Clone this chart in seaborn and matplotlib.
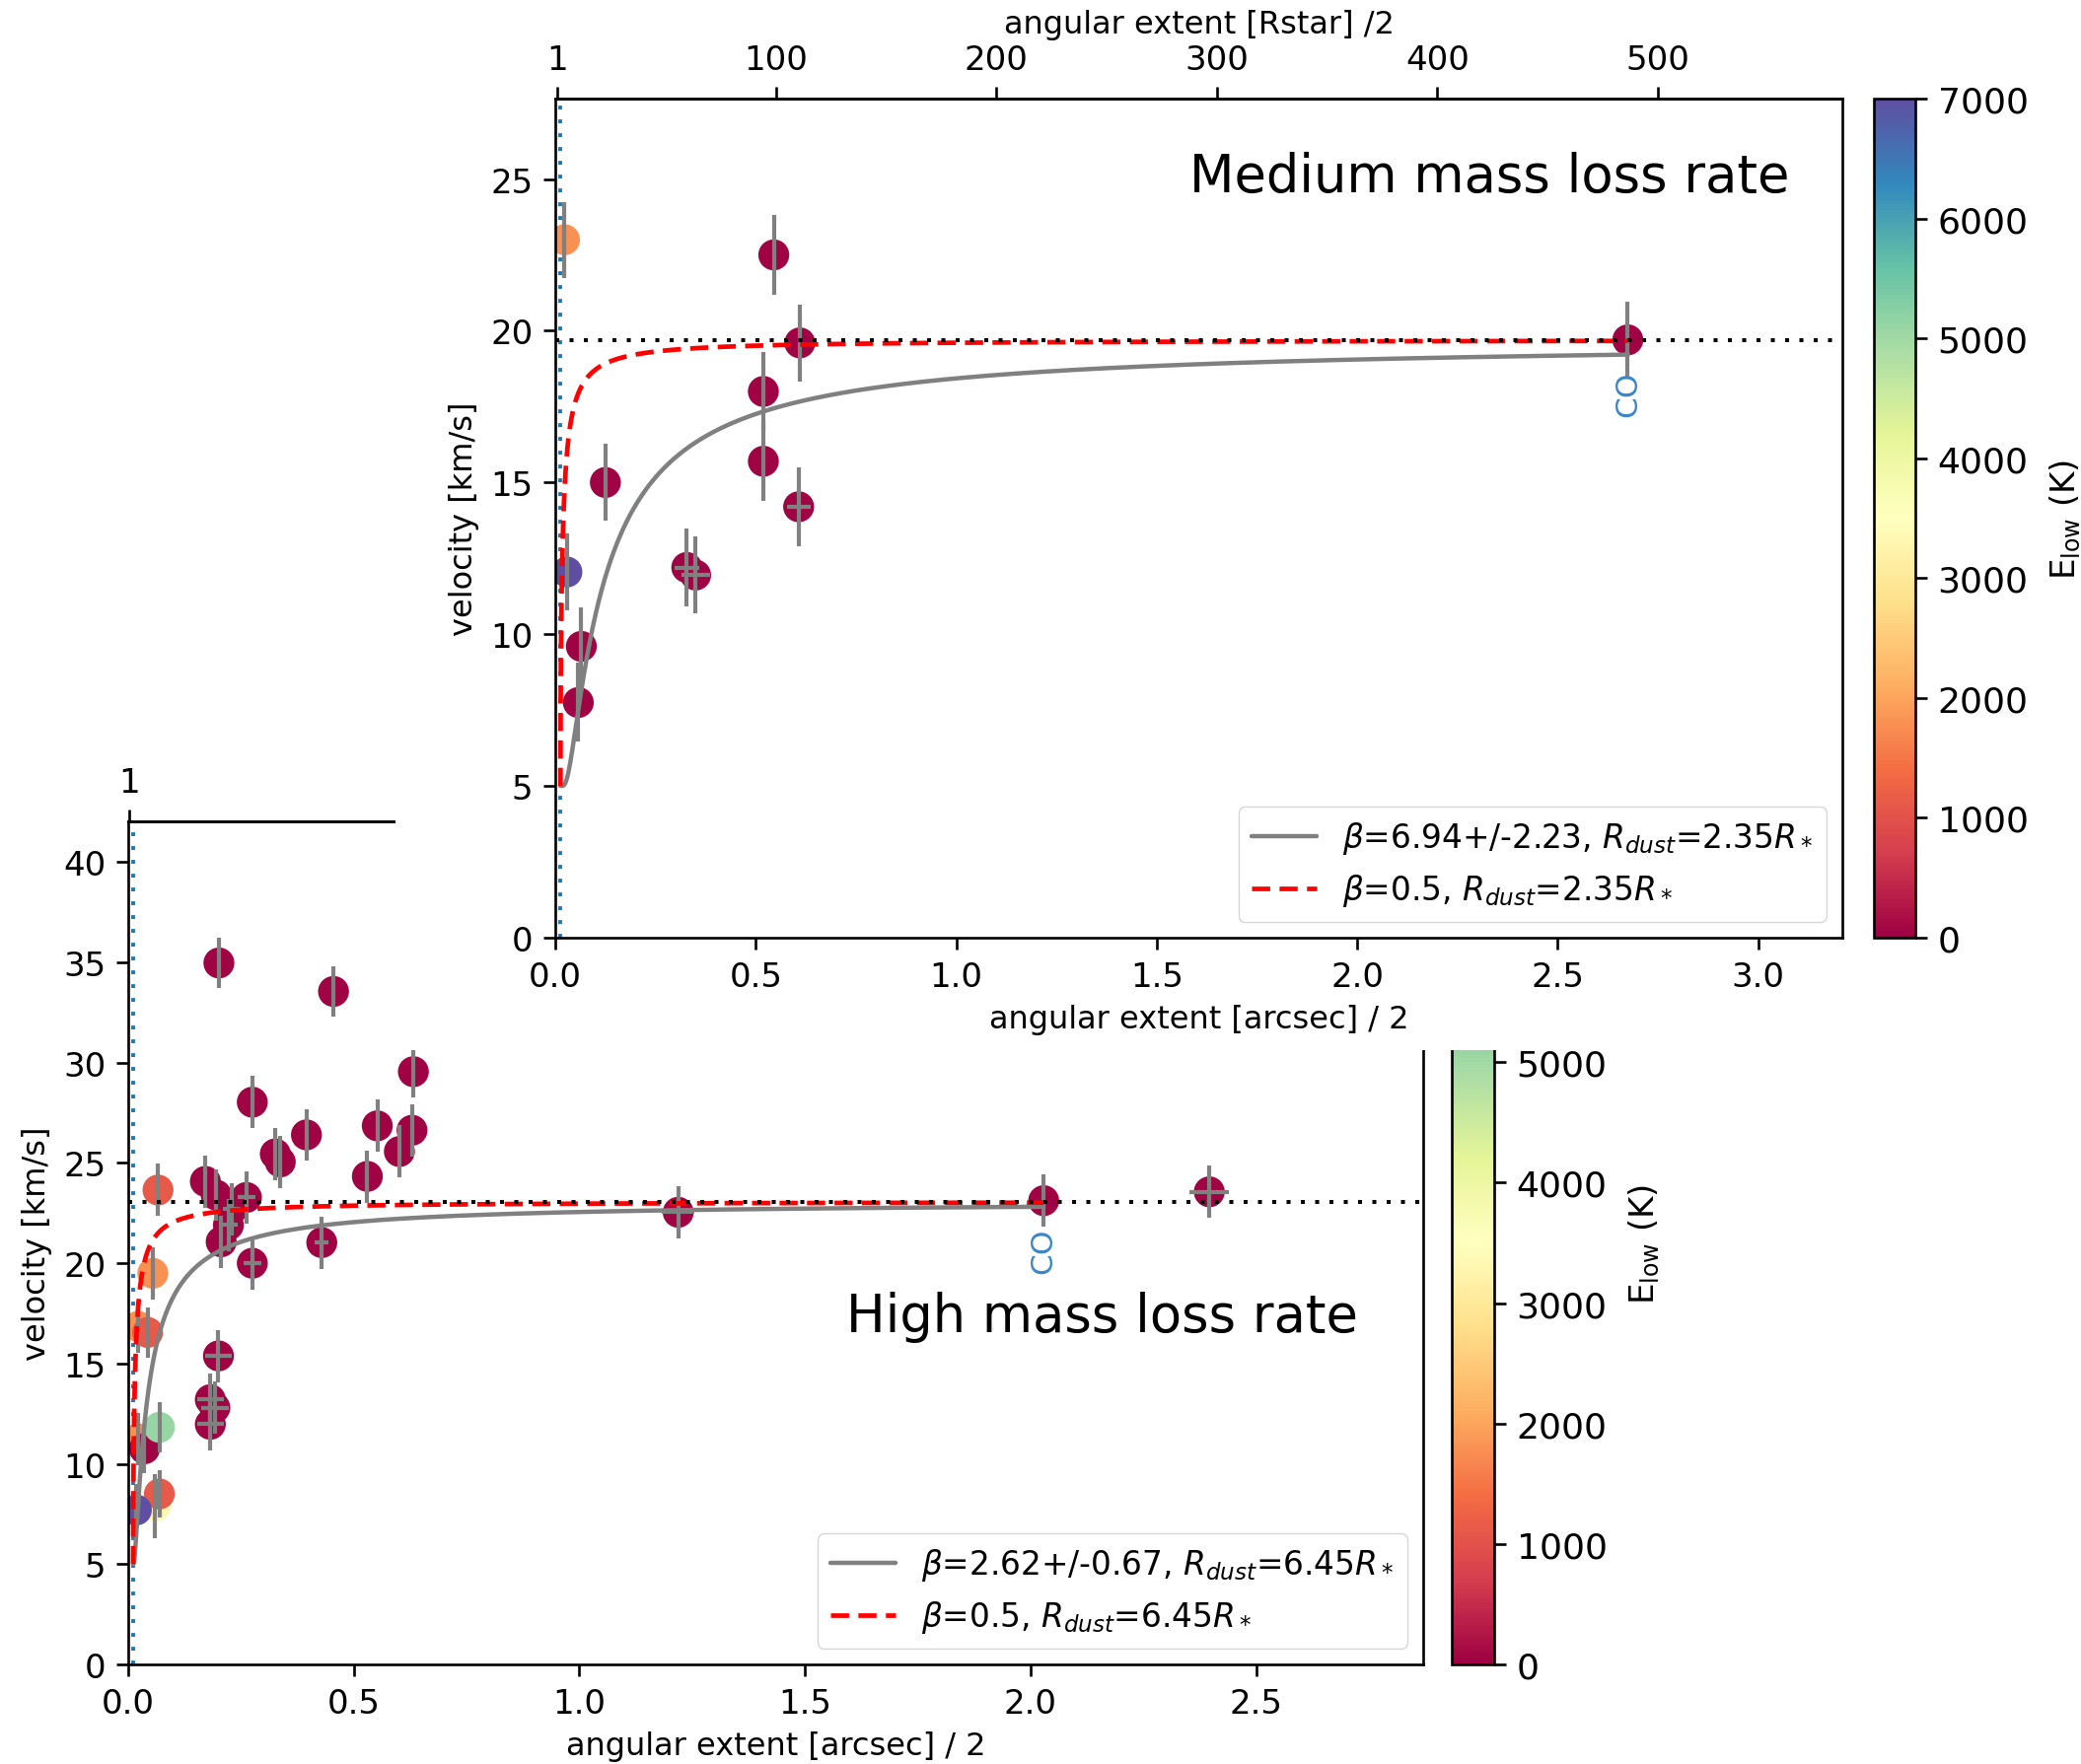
import numpy as np
import matplotlib
matplotlib.use("Agg")
import matplotlib.pyplot as plt
import seaborn as sns
from matplotlib.colors import Normalize
from matplotlib.cm import ScalarMappable
from matplotlib.patches import Rectangle

# ---------------- data: medium mass loss rate (upper panel) ----------------
med_x = [0.023, 0.029, 0.0575, 0.065, 0.125, 0.328, 0.350, 0.519, 0.519, 0.545, 0.610, 0.607, 2.675]
med_v = [23.0, 12.05, 7.75, 9.6, 15.0, 12.2, 11.95, 18.0, 15.7, 22.5, 19.6, 14.2, 19.7]
med_verr = [1.25, 1.27, 1.3, 1.3, 1.27, 1.27, 1.27, 1.3, 1.3, 1.3, 1.27, 1.3, 1.27]
med_xerr = [0, 0, 0, 0, 0, 0.03, 0.035, 0, 0, 0, 0, 0.03, 0]
med_elow = [1800, 7000, 30, 30, 30, 30, 30, 30, 30, 30, 30, 30, 30]

# ---------------- data: high mass loss rate (lower panel) ----------------
high_x = [0.201, 0.455, 0.632, 0.275, 0.395, 0.552, 0.629, 0.601, 0.326, 0.337,
          0.530, 0.171, 0.195, 0.262, 0.230, 0.222, 0.206, 0.275, 0.429, 1.219,
          2.029, 2.396, 0.200, 0.182, 0.192, 0.182, 0.066, 0.0545, 0.022, 0.043,
          0.022, 0.036, 0.069, 0.060, 0.069, 0.018]
high_v = [34.97, 33.55, 29.55, 28.03, 26.4, 26.85, 26.63, 25.57, 25.45, 25.05,
          24.33, 24.08, 23.4, 23.28, 22.7, 21.9, 21.07, 20.0, 21.03, 22.54,
          23.12, 23.56, 15.38, 13.2, 12.8, 11.97, 23.65, 19.5, 16.85, 16.55,
          11.25, 10.75, 11.82, 7.9, 8.5, 7.7]
high_verr = [1.27, 1.27, 1.3, 1.3, 1.27, 1.3, 1.3, 1.3, 1.3, 1.3,
             1.3, 1.3, 1.3, 1.3, 1.3, 1.3, 1.3, 1.3, 1.3, 1.3,
             1.3, 1.3, 1.3, 1.3, 1.3, 1.3, 1.3, 1.3, 1.3, 1.25,
             1.3, 1.2, 1.25, 1.6, 1.2, 1.3]
high_xerr = [0, 0, 0, 0, 0, 0, 0, 0, 0, 0,
             0, 0, 0, 0.02, 0.02, 0.02, 0, 0.02, 0.015, 0.036,
             0, 0.043, 0.03, 0.03, 0.03, 0.03, 0, 0, 0, 0,
             0, 0, 0, 0, 0, 0]
high_elow = [30, 30, 30, 30, 30, 30, 30, 30, 30, 30,
             30, 30, 30, 30, 30, 30, 30, 30, 30, 30,
             30, 30, 30, 30, 30, 30, 1100, 1800, 1800, 1100,
             1800, 30, 5100, 3300, 1100, 7000]

# ---------------- model parameters (beta velocity law, from legends) ----------------
V0 = 5.0
BETA_REF = 0.5
MED_RSTAR = 0.0055      # arcsec per stellar radius
MED_RDUST = 2.35
MED_VINF = 19.7
MED_BETA = 6.94
MED_BETA_ERR = 2.23
MED_CO_X = 2.675
HIGH_RSTAR = 0.0017
HIGH_RDUST = 6.45
HIGH_VINF = 23.07
HIGH_BETA = 2.62
HIGH_BETA_ERR = 0.67
HIGH_CO_X = 2.029

ELOW_MAX = 7000
med_rstar_ticks = [1, 100, 200, 300, 400, 500]
high_rstar_ticks = [1]
med_cbar_ticks = [0, 1000, 2000, 3000, 4000, 5000, 6000, 7000]
high_cbar_ticks = [0, 1000, 2000, 3000, 4000, 5000]

# ---------------- style ----------------
sns.set_style("ticks", rc={"axes.edgecolor": "black", "xtick.color": "black",
                           "ytick.color": "black", "text.color": "black",
                           "axes.labelcolor": "black"})
FS = 23
TFS = 24.5
plt.rcParams.update({
    "font.family": ["DejaVu Sans"],
    "mathtext.fontset": "dejavusans",
    "font.size": FS,
    "xtick.labelsize": TFS, "ytick.labelsize": TFS,
    "axes.labelsize": FS, "legend.fontsize": 23.6,
    "axes.linewidth": 1.9,
    "xtick.major.width": 1.9, "ytick.major.width": 1.9,
    "xtick.major.size": 8.3, "ytick.major.size": 8.3,
    "xtick.major.pad": 8, "ytick.major.pad": 8,
    "axes.labelpad": 8,
    "xtick.direction": "out", "ytick.direction": "out",
})

W, H = 2110, 1790
fig = plt.figure(figsize=(W / 100, H / 100), dpi=100, facecolor="white")


def fpos(left, top, right, bottom):
    return [left / W, 1 - bottom / H, (right - left) / W, (bottom - top) / H]


norm = Normalize(0, ELOW_MAX)
cmap = plt.get_cmap("Spectral")


def beta_law(x, rstar, rdust, vinf, beta):
    r = np.asarray(x) / rstar
    return V0 + (vinf - V0) * np.clip(1 - rdust / r, 0, None) ** beta


def draw_panel(ax, xs, vs, verr, xerr, elow, rstar, rdust, vinf, beta, beta_err, co_x,
               xlim, ylim, co_top):
    ax.axvline(rdust * rstar, color="C0", ls=(0, (1, 2.6)), lw=2.8, zorder=1)
    ax.axhline(vinf, color="black", ls=(0, (1, 2.6)), lw=2.9, zorder=4)
    sns.scatterplot(x=xs, y=vs, hue=elow, palette="Spectral", hue_norm=(0, ELOW_MAX),
                    s=510, linewidth=0, legend=False, ax=ax, zorder=2)
    ax.errorbar(xs, vs, yerr=verr, xerr=xerr, fmt="none", ecolor="gray",
                elinewidth=3.0, capsize=0, zorder=3)
    xr = np.geomspace(rdust * rstar, co_x, 800)
    ax.plot(xr, beta_law(xr, rstar, rdust, vinf, beta), color="gray", lw=3.2, zorder=3,
            label=r"$\beta$=%.2f+/-%.2f, $R_{dust}$=%.2f$R_*$" % (beta, beta_err, rdust))
    ax.plot(xr, beta_law(xr, rstar, rdust, vinf, BETA_REF), color="red", lw=3.4,
            ls=(0, (3.9, 2.0)), zorder=3,
            label=r"$\beta$=%.1f, $R_{dust}$=%.2f$R_*$" % (BETA_REF, rdust))
    ax.text(co_x, co_top, "CO", rotation=90, ha="center", va="top", color="#3a86c8",
            fontsize=22.5, zorder=5)
    ax.set_xlim(*xlim)
    ax.set_ylim(*ylim)
    ax.set_xlabel("angular extent [arcsec] / 2")
    ax.set_ylabel("velocity [km/s]")
    ax.legend(loc="lower right")
    for s in ax.spines.values():
        s.set_visible(True)


def style_cbar(cb, ticks):
    cb.set_ticks(ticks)
    cb.outline.set_linewidth(1.9)
    cb.ax.tick_params(labelsize=26, width=1.9, length=8.3)
    cb.set_label(r"E$_{\rm low}$ (K)", fontsize=24.5, labelpad=14)


# ---------------- lower panel (high mass loss rate) ----------------
ax2 = fig.add_axes(fpos(130, 834, 1443, 1689))
cax2 = fig.add_axes(fpos(1472, 834, 1515, 1689))
ax2.set_zorder(0)
cax2.set_zorder(0)
draw_panel(ax2, high_x, high_v, high_verr, high_xerr, high_elow, HIGH_RSTAR, HIGH_RDUST,
           HIGH_VINF, HIGH_BETA, HIGH_BETA_ERR, HIGH_CO_X, (0, 2.87), (0, 42.03), 21.8)
ax2.set_xticks([0.0, 0.5, 1.0, 1.5, 2.0, 2.5])
ax2.set_yticks(range(0, 45, 5))
sec2 = ax2.secondary_xaxis("top", functions=(lambda x: x / HIGH_RSTAR, lambda r: r * HIGH_RSTAR))
sec2.set_xticks(high_rstar_ticks)
ax2.text(0.752, 0.413, "High mass loss rate", transform=ax2.transAxes, ha="center",
         va="center", fontsize=38)
cb2 = fig.colorbar(ScalarMappable(norm=norm, cmap=cmap), cax=cax2)
style_cbar(cb2, high_cbar_ticks)

# ---------------- white cover where the upper panel sits ----------------
fig.add_artist(Rectangle((401 / W, 1 - 1066 / H), 1 - 401 / W, 1066 / H,
                         transform=fig.transFigure, facecolor="white",
                         edgecolor="none", zorder=1))

# ---------------- upper panel (medium mass loss rate) ----------------
ax1 = fig.add_axes(fpos(563, 101, 1868, 952))
cax1 = fig.add_axes(fpos(1900, 101, 1942, 952))
ax1.set_zorder(2)
cax1.set_zorder(2)
draw_panel(ax1, med_x, med_v, med_verr, med_xerr, med_elow, MED_RSTAR, MED_RDUST,
           MED_VINF, MED_BETA, MED_BETA_ERR, MED_CO_X, (0, 3.21), (0, 27.65), 18.7)
ax1.set_xticks([0.0, 0.5, 1.0, 1.5, 2.0, 2.5, 3.0])
ax1.set_yticks(range(0, 30, 5))
sec1 = ax1.secondary_xaxis("top", functions=(lambda x: x / MED_RSTAR, lambda r: r * MED_RSTAR))
sec1.set_xticks(med_rstar_ticks)
sec1.set_xlabel("angular extent [Rstar] /2")
ax1.text(0.726, 0.907, "Medium mass loss rate", transform=ax1.transAxes, ha="center",
         va="center", fontsize=38)
cb1 = fig.colorbar(ScalarMappable(norm=norm, cmap=cmap), cax=cax1)
style_cbar(cb1, med_cbar_ticks)

fig.savefig("out.png", dpi=100, facecolor="white")
